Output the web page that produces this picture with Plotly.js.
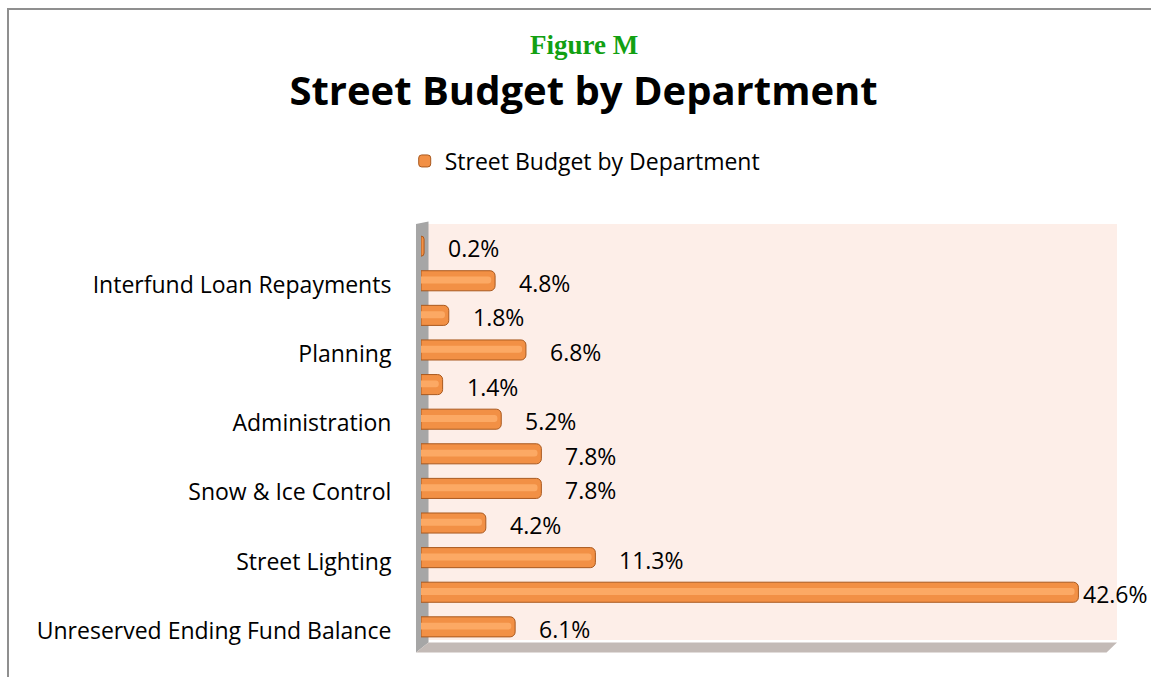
<!DOCTYPE html>
<html lang="en">
<head>
    <meta charset="UTF-8">
    <title>Street Budget by Department</title>
    <script src="https://cdn.plot.ly/plotly-3.0.1.min.js"></script>
    <style>
        body { margin: 0; background: white; }
        #chart { width: 1151px; height: 677px; }
        .frame {
            position: absolute; left: 7px; top: 8px; right: 0; bottom: 0;
            border-left: 2px solid #8f8f8f; border-top: 2px solid #8f8f8f;
            pointer-events: none;
        }
    </style>
</head>
<body>
    <div id="chart"></div>
    <div class="frame"></div>
    <script>
        // bottom to top, as drawn; blank names are rows whose label the chart does not show
        const departments = ["Unreserved Ending Fund Balance", "", "Street Lighting", "",
            "Snow & Ice Control", "", "Administration", "", "Planning", "",
            "Interfund Loan Repayments", ""];
        const shares = [6.1, 42.6, 11.3, 4.2, 7.8, 7.8, 5.2, 1.4, 6.8, 1.8, 4.8, 0.2];
        const seriesName = "Street Budget by Department";

        const rows = departments.map((d, i) => i);
        const tickRows = rows.filter(i => departments[i] !== "");
        const tickNames = tickRows.map(i => departments[i]);

        const labelFont = {family: "'Open Sans', Lato, sans-serif", size: 23, color: "#000"};

        const bars = {
            type: "bar", orientation: "h", name: seriesName,
            x: shares, y: rows, width: 0.58,
            marker: {color: "#F29045", line: {color: "#A9591F", width: 1}},
            hoverinfo: "x"
        };
        const shine = {
            type: "bar", orientation: "h", showlegend: false,
            x: shares.map(v => Math.max(v - 0.25, 0)), y: rows, width: 0.2, offset: -0.08,
            marker: {color: "#FCA964", line: {width: 0}},
            hoverinfo: "skip"
        };

        const annotations = shares.map((v, i) => ({
            x: v, y: rows[i], xref: "x", yref: "y",
            text: v.toFixed(1) + "%", showarrow: false,
            xanchor: "left", xshift: v > 40 ? 3 : 22, yshift: -2,
            font: labelFont
        }));
        // "Figure M" sits above the plot; paper units relative to the plot box (421..1117, 224..640)
        annotations.push({
            text: "<b>Figure M</b>", xref: "paper", yref: "paper",
            x: (584 - 421) / 696, y: (640 - 45) / 416, xanchor: "center", yanchor: "middle",
            showarrow: false,
            font: {family: "'Liberation Serif', 'DejaVu Serif', serif", size: 27, color: "#12A012"}
        });

        const layout = {
            width: 1151, height: 677,
            margin: {l: 421, r: 34, t: 224, b: 37},
            paper_bgcolor: "white", plot_bgcolor: "#FDEEE8",
            barmode: "overlay",
            barcornerradius: 5,
            title: {
                text: "<b>Street Budget by Department</b>",
                font: {family: "'Open Sans', Lato, sans-serif", size: 40, color: "#000"},
                x: 0.507, xanchor: "center", xref: "container",
                y: 1 - 91 / 677, yanchor: "middle", yref: "container"
            },
            showlegend: true,
            legend: {
                orientation: "h", xref: "container", yref: "container",
                x: 0.508, xanchor: "center", y: 1 - 161 / 677, yanchor: "middle",
                font: labelFont
            },
            xaxis: {range: [0, 45.1], showticklabels: false, showgrid: false, zeroline: false, fixedrange: true},
            yaxis: {
                range: [-0.38, 11.64], tickvals: tickRows, ticktext: tickNames,
                showgrid: false, zeroline: false, ticks: "outside", ticklen: 24,
                ticklabelshift: 4,
                tickcolor: "rgba(0,0,0,0)", tickfont: labelFont, fixedrange: true
            },
            annotations: annotations,
            shapes: [
                // left wall of the 3d frame
                {type: "path", xref: "paper", yref: "paper", layer: "below",
                 path: "M -0.0072 -0.03 L -0.0072 1.0 L 0.0108 1.006 L 0.0108 -0.006 Z",
                 fillcolor: "#A6A6A6", line: {width: 0}},
                // floor
                {type: "path", xref: "paper", yref: "paper", layer: "below",
                 path: "M -0.0072 -0.03 L 0.985 -0.03 L 1.0 -0.006 L 0.0108 -0.006 Z",
                 fillcolor: "#C3BAB6", line: {width: 0}}
            ]
        };

        Plotly.newPlot("chart", [bars, shine], layout, {displayModeBar: false, staticPlot: true});
    </script>
</body>
</html>
